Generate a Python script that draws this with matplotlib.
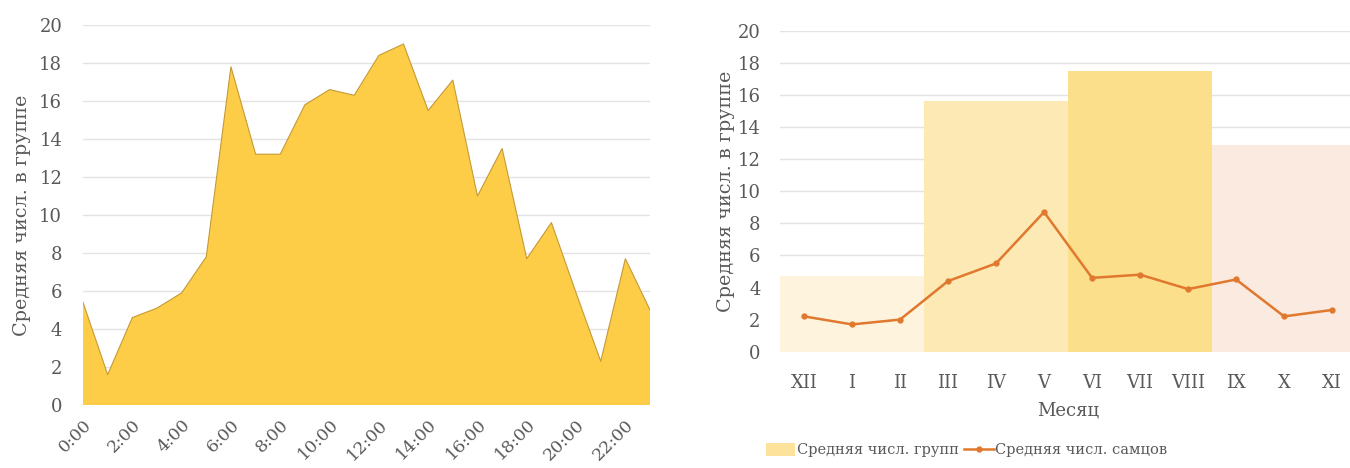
import numpy as np
import matplotlib
matplotlib.use("Agg")
import matplotlib.pyplot as plt
from matplotlib.patches import Patch
from matplotlib.lines import Line2D

plt.rcParams["font.family"] = ["DejaVu Serif"]

# Hourly mean group size
hours = [f"{h}:00" for h in range(24)]
group_by_hour = [5.4, 1.6, 4.6, 5.1, 5.9, 7.8, 17.8, 13.2, 13.2, 15.8, 16.6, 16.3,
                 18.4, 19.0, 15.5, 17.1, 11.0, 13.5, 7.7, 9.6, 5.9, 2.3, 7.7, 5.0]

# Monthly values
months = ["XII", "I", "II", "III", "IV", "V", "VI", "VII", "VIII", "IX", "X", "XI"]
males_by_month = [2.2, 1.7, 2.0, 4.4, 5.5, 8.7, 4.6, 4.8, 3.9, 4.5, 2.2, 2.6]
seasons = ["winter", "spring", "summer", "autumn"]
group_by_season = [4.7, 15.6, 17.5, 12.9]
season_colors = ["#FEF3DD", "#FDE9B3", "#FCDF8B", "#FBEAE0"]

grey = "#595959"
grid_col = "#E3E3E3"
fs = 13
ylab_fs = 13.8

fig = plt.figure(figsize=(13.5, 4.68), dpi=100)

# --- left: area chart by hour ---
ax1 = fig.add_axes([0.0615, 0.1346, 0.42, 0.812])
x = np.arange(len(hours))
ax1.fill_between(x, group_by_hour, 0, facecolor="#FECD48", edgecolor="none", zorder=2)
ax1.plot(x, group_by_hour, color="#C49A35", lw=0.8, zorder=3)
ax1.set_xlim(0, len(hours) - 1)
ax1.set_ylim(0, 20)
ax1.set_yticks(range(0, 21, 2))
ax1.set_xticks(x[::2])
ax1.set_xticklabels(hours[::2], rotation=45, ha="right", rotation_mode="anchor")
ax1.grid(axis="y", color=grid_col, lw=1, zorder=0)
ax1.set_axisbelow(True)
ax1.set_ylabel("Средняя числ. в группе", color=grey, fontsize=ylab_fs, labelpad=6)
ax1.tick_params(colors=grey, labelsize=fs, length=0)
ax1.tick_params(axis="y", pad=15)
ax1.tick_params(axis="x", pad=8, labelsize=12.5)
for s in ax1.spines.values():
    s.set_visible(False)

# --- right: seasons as wide bars, males as line ---
ax2 = fig.add_axes([0.5778, 0.2485, 0.4267, 0.6859])
xm = np.arange(len(months))
centers = xm[1::3]
ax2.bar(centers, group_by_season, width=3, color=season_colors, zorder=2)
ax2.plot(xm, males_by_month, color="#E0782E", lw=1.8, marker="o", ms=3.5, zorder=3)
ax2.set_xlim(-0.5, len(months) - 0.5)
ax2.set_ylim(0, 20)
ax2.set_yticks(range(0, 21, 2))
ax2.set_xticks(xm)
ax2.set_xticklabels(months)
ax2.grid(axis="y", color=grid_col, lw=1, zorder=0)
ax2.set_axisbelow(True)
ax2.set_ylabel("Средняя числ. в группе", color=grey, fontsize=ylab_fs, labelpad=2)
ax2.set_xlabel("Месяц", color=grey, fontsize=fs, labelpad=7)
ax2.tick_params(colors=grey, labelsize=fs, length=0, pad=16)
ax2.tick_params(axis="y", pad=14)
for s in ax2.spines.values():
    s.set_visible(False)

handles = [Patch(facecolor="#FCE29A", edgecolor="none"),
           Line2D([0], [0], color="#E0782E", lw=1.8, marker="o", ms=3.5)]
fig.legend(handles, ["Средняя числ. групп", "Средняя числ. самцов"],
           loc="center", bbox_to_anchor=(0.716, 0.038), ncol=2, frameon=False,
           fontsize=10.5, labelcolor=grey, handlelength=2.0, handleheight=1.0,
           handletextpad=0.1, columnspacing=0.4)

fig.savefig("out.png", dpi=100)
